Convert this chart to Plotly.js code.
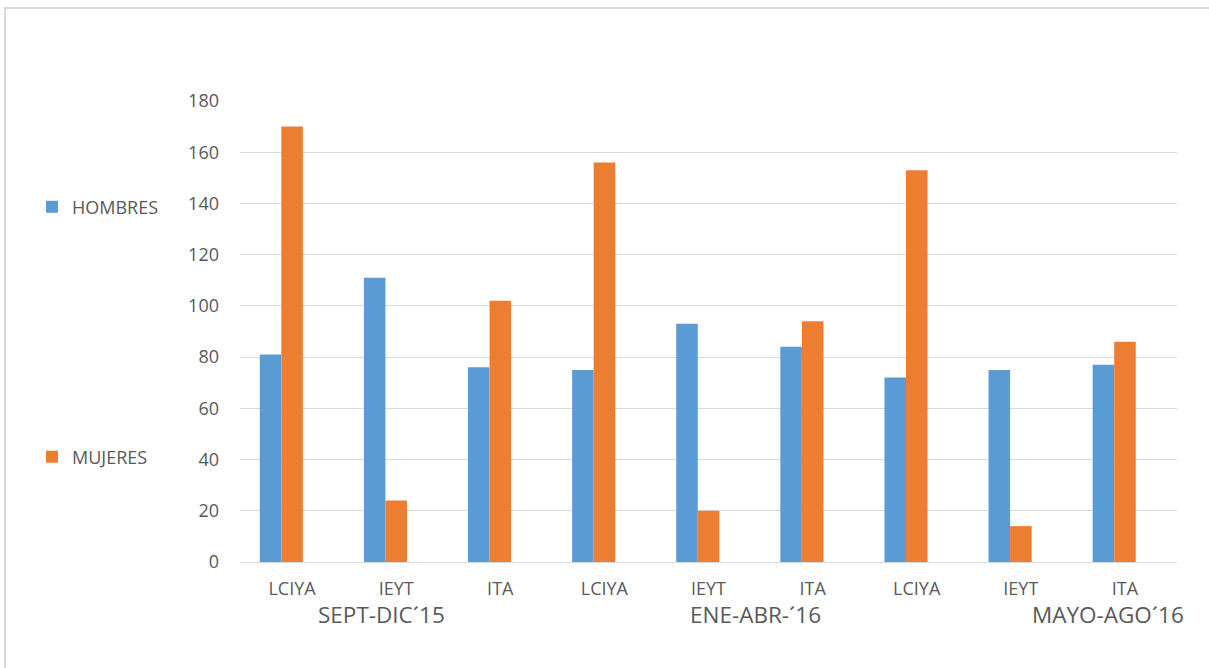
<!DOCTYPE html>
<html>
<head>
<meta charset="utf-8">
<script src="https://cdn.plot.ly/plotly-3.0.1.min.js"></script>
<style>html,body{margin:0;padding:0;background:#fff;}#chart{width:1209px;height:668px;}</style>
</head>
<body>
<div id="chart"></div>
<script>
// Data
const programs = ["LCIYA", "IEYT", "ITA", "LCIYA", "IEYT", "ITA", "LCIYA", "IEYT", "ITA"];
const periods = ["SEPT-DIC\u00B415", "ENE-ABR-\u00B416", "MAYO-AGO\u00B416"];
const periodLabelPos = [0.86, 4.45, 7.84];
const hombres = [81, 111, 76, 75, 93, 84, 72, 75, 77];
const mujeres = [170, 24, 102, 156, 20, 94, 153, 14, 86];
const yTicks = [0, 20, 40, 60, 80, 100, 120, 140, 160, 180];

const idx = programs.map((_, i) => i);
const textColor = "#595959";
const font = "Open Sans, Liberation Sans, sans-serif";

const traces = [
  {type: "bar", name: "HOMBRES", x: idx, y: hombres, width: 0.207, offset: -0.31,
   marker: {color: "#5B9BD5"}, legend: "legend"},
  {type: "bar", name: "MUJERES", x: idx, y: mujeres, width: 0.207, offset: -0.103,
   marker: {color: "#ED7D31"}, legend: "legend2"}
];

const plotL = 240, plotR = 1177, plotT = 101, plotB = 562;
const W = 1209, H = 668;
const pw = plotR - plotL, ph = plotB - plotT;
const px = v => (v - plotL) / pw;
const py = v => (plotB - v) / ph;

const layout = {
  width: W, height: H,
  margin: {l: plotL, r: W - plotR, t: plotT, b: H - plotB, pad: 0},
  paper_bgcolor: "#fff", plot_bgcolor: "#fff",
  font: {family: font, color: textColor, size: 18},
  barmode: "overlay",
  xaxis: {
    type: "linear", range: [-0.5, 8.5],
    tickvals: idx, ticktext: programs,
    showgrid: false, zeroline: false, showline: false, ticks: "",
    ticklabelstandoff: 14,
    tickfont: {family: font, size: 18, color: textColor}
  },
  yaxis: {
    range: [0, 180], tickvals: yTicks,
    showgrid: true, gridcolor: "#d9d9d9", gridwidth: 1,
    zeroline: true, zerolinecolor: "#d9d9d9", zerolinewidth: 1,
    showline: false, ticks: "",
    ticklabelstandoff: 20,
    tickfont: {family: font, size: 18, color: textColor}
  },
  showlegend: true,
  legend: {x: px(32), xanchor: "left", y: py(207), yanchor: "middle",
           bgcolor: "rgba(0,0,0,0)", font: {family: font, size: 18, color: textColor}},
  legend2: {x: px(32), xanchor: "left", y: py(457), yanchor: "middle",
            bgcolor: "rgba(0,0,0,0)", font: {family: font, size: 18, color: textColor}},
  annotations: periods.map((p, i) => ({
    text: p, xref: "x", yref: "paper", x: periodLabelPos[i], y: py(614),
    xanchor: "center", yanchor: "middle", showarrow: false,
    font: {family: font, size: 22.5, color: textColor}
  })),
  shapes: [{
    type: "rect", xref: "paper", yref: "paper",
    x0: px(5), x1: px(1260), y0: py(720), y1: py(8),
    line: {color: "#d9d9d9", width: 2}, fillcolor: "rgba(0,0,0,0)", layer: "below"
  }]
};

Plotly.newPlot("chart", traces, layout, {displayModeBar: false, staticPlot: true});
</script>
</body>
</html>
